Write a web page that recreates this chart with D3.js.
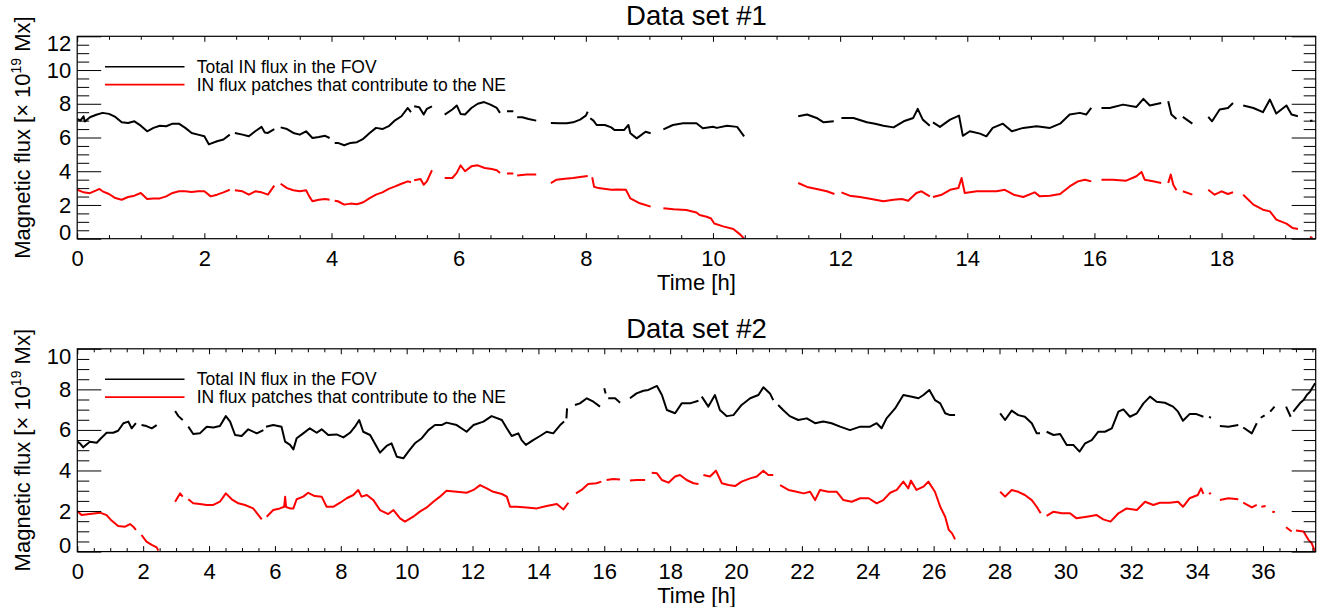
<!DOCTYPE html>
<html>
<head>
<meta charset="utf-8">
<script src="https://cdn.jsdelivr.net/npm/d3@7"></script>
<style>
  html, body { margin: 0; padding: 0; background: #fff; }
  svg { display: block; font-family: "Liberation Sans", Arial, Helvetica, sans-serif; }
</style>
</head>
<body>
<svg id="chart" width="1320" height="607"></svg>
<script>
// ---- Data set #1: [hour, flux in 1e19 Mx]; null marks a gap in the record ----
const set1Total = [
  [0,7.1],[0.05,7.0],[0.1,7.25],[0.12,6.95],[0.2,7.2],[0.3,7.35],[0.4,7.46],[0.5,7.4],[0.6,7.22],[0.7,6.9],
  [0.8,6.86],[0.9,6.96],[1.0,6.7],[1.1,6.37],[1.2,6.57],[1.3,6.7],[1.4,6.67],[1.5,6.82],[1.6,6.82],[1.7,6.57],
  [1.8,6.27],[1.9,6.17],[2.0,6.07],[2.07,5.6],[2.1,5.64],[2.2,5.78],[2.3,5.88],[2.4,6.17], null,
  [2.48,6.27],[2.6,6.17],[2.7,6.07],[2.8,6.37],[2.9,6.63],[2.95,6.3],[3.0,6.27],[3.1,6.5], null,
  [3.2,6.6],[3.3,6.5],[3.4,6.27],[3.5,6.17],[3.6,6.37],[3.7,5.97],[3.8,6.03],[3.9,6.1],[3.97,5.97], null,
  [4.05,5.68],[4.1,5.68],[4.2,5.54],[4.3,5.68],[4.4,5.72],[4.5,5.92],[4.6,6.27],[4.7,6.57],[4.8,6.5],[4.9,6.67],
  [5.0,7.02],[5.1,7.26],[5.2,7.75],[5.25,7.5], null,
  [5.3,7.85],[5.38,7.8],[5.45,7.36],[5.5,7.7],[5.58,7.85], null,
  [5.78,7.36],[5.9,7.66],[5.97,7.9],[6.03,7.4],[6.1,7.36],[6.2,7.75],[6.3,8.0],[6.4,8.1],[6.5,7.95],[6.6,7.75],[6.65,7.46], null,
  [6.76,7.56],[6.86,7.56], null,
  [6.92,7.2],[7.0,7.2],[7.1,7.1],[7.22,7.0], null,
  [7.45,6.86],[7.59,6.84],[7.7,6.84],[7.8,6.9],[7.91,7.06],[8.0,7.3],[8.03,7.53], null,
  [8.07,7.14],[8.12,7.0],[8.17,6.74],[8.3,6.74],[8.4,6.6],[8.45,6.44],[8.6,6.44],[8.67,6.74],[8.7,6.25],[8.8,5.95],
  [8.94,6.34],[9.02,6.25], null,
  [9.22,6.48],[9.37,6.74],[9.53,6.84],[9.74,6.84],[9.84,6.55],[10.0,6.64],[10.06,6.57],[10.22,6.7],[10.38,6.63],[10.49,6.07], null,
  [11.34,7.26],[11.48,7.36],[11.63,7.16],[11.74,6.9],[11.9,6.96], null,
  [12.02,7.16],[12.21,7.16],[12.42,6.9],[12.55,6.82],[12.68,6.7],[12.84,6.6],[13.0,6.96],[13.15,7.16],[13.22,7.7],[13.3,7.06],[13.41,6.7], null,
  [13.46,6.9],[13.57,6.63],[13.73,7.06],[13.87,7.3],[13.93,6.1],[14.04,6.37],[14.2,6.23],[14.3,6.07],[14.4,6.57],[14.56,6.82],
  [14.7,6.37],[14.88,6.57],[15.09,6.67],[15.3,6.57],[15.46,6.82],[15.61,7.36],[15.77,7.46],[15.87,7.36],[15.95,7.75], null,
  [16.11,7.75],[16.24,7.75],[16.45,7.95],[16.66,7.81],[16.77,8.29],[16.87,7.9],[17.05,8.05], null,
  [17.16,8.15],[17.21,7.36],[17.29,7.1], null,
  [17.39,7.22],[17.54,6.82], null,
  [17.79,7.22],[17.85,6.96],[17.97,7.66],[18.1,7.75],[18.18,8.05], null,
  [18.34,7.9],[18.5,7.75],[18.65,7.5],[18.76,8.25],[18.86,7.42],[19.02,7.9],[19.1,7.36],[19.2,7.26], null,
  [19.39,7.0],[19.43,7.0]
];

const set1Patches = [
  [0,2.9],[0.1,2.75],[0.2,2.7],[0.3,2.87],[0.35,2.95],[0.4,2.81],[0.5,2.65],[0.6,2.41],[0.7,2.31],[0.8,2.47],
  [0.9,2.55],[1.0,2.71],[1.1,2.35],[1.2,2.39],[1.3,2.39],[1.4,2.51],[1.5,2.71],[1.6,2.81],[1.7,2.81],[1.8,2.77],
  [1.9,2.81],[2.0,2.81],[2.1,2.51],[2.2,2.61],[2.3,2.75],[2.4,2.9], null,
  [2.48,2.87],[2.6,2.81],[2.7,2.61],[2.8,2.81],[2.9,2.75],[3.0,2.61],[3.1,3.15], null,
  [3.2,3.26],[3.3,3.0],[3.4,2.87],[3.5,2.81],[3.6,2.87],[3.65,2.51],[3.7,2.22],[3.8,2.31],[3.9,2.35],[3.97,2.31], null,
  [4.05,2.25],[4.1,2.22],[4.2,2.02],[4.3,2.08],[4.4,2.04],[4.5,2.16],[4.6,2.41],[4.7,2.61],[4.8,2.75],[4.9,2.95],
  [5.0,3.1],[5.1,3.26],[5.2,3.4],[5.25,3.35], null,
  [5.3,3.46],[5.4,3.54],[5.45,3.2],[5.5,3.4],[5.58,4.06], null,
  [5.78,3.6],[5.9,3.6],[5.97,3.9],[6.03,4.35],[6.1,4.0],[6.2,4.29],[6.3,4.35],[6.41,4.19],[6.52,4.13],[6.6,4.06],[6.65,3.9], null,
  [6.76,3.86],[6.86,3.86], null,
  [6.92,3.74],[7.07,3.8],[7.22,3.8], null,
  [7.45,3.3],[7.54,3.5],[7.67,3.56],[7.8,3.6],[7.91,3.66],[8.03,3.72], null,
  [8.1,3.64],[8.13,3.08],[8.2,3.0],[8.4,2.9],[8.5,2.92],[8.63,2.9],[8.7,2.39],[8.85,2.1],[9.02,1.9], null,
  [9.22,1.8],[9.38,1.74],[9.58,1.7],[9.74,1.55],[9.79,1.4],[9.9,1.3],[9.97,1.2],[10.02,0.9],[10.16,0.73],[10.32,0.57],[10.43,0.24],[10.49,0.0], null,
  [11.34,3.3],[11.48,3.07],[11.63,2.95],[11.79,2.81],[11.91,2.65], null,
  [12.02,2.75],[12.15,2.55],[12.31,2.47],[12.47,2.37],[12.68,2.22],[12.84,2.31],[12.97,2.35],[13.07,2.25],[13.2,2.71],[13.28,2.81],[13.41,2.51], null,
  [13.46,2.47],[13.6,2.61],[13.73,2.9],[13.86,3.0],[13.91,3.6],[13.96,2.71],[14.15,2.81],[14.3,2.81],[14.46,2.81],[14.59,2.9],
  [14.73,2.61],[14.88,2.47],[15.06,2.75],[15.14,2.51],[15.3,2.55],[15.46,2.65],[15.61,3.1],[15.74,3.4],[15.85,3.5],[15.95,3.4], null,
  [16.11,3.5],[16.29,3.5],[16.5,3.44],[16.66,3.7],[16.74,3.96],[16.79,3.5],[16.92,3.4],[17.05,3.3], null,
  [17.16,3.3],[17.2,3.8],[17.24,3.2],[17.29,2.87], null,
  [17.39,2.81],[17.54,2.61], null,
  [17.79,2.9],[17.89,2.61],[18.0,2.81],[18.1,2.65],[18.18,2.75], null,
  [18.34,2.61],[18.5,2.02],[18.65,1.72],[18.76,1.62],[18.86,1.13],[19.02,0.89],[19.12,0.63],[19.2,0.57], null,
  [19.39,0.1],[19.43,0.05]
];

// ---- Data set #2 ----
const set2Total = [
  [0,5.42],[0.08,5.34],[0.18,5.14],[0.38,5.42],[0.59,5.37],[0.69,5.54],[0.89,5.86],[1.09,5.86],[1.24,5.96],[1.4,6.33],
  [1.55,6.41],[1.65,6.08],[1.78,6.33], null,
  [1.95,6.24],[2.1,6.19],[2.26,6.08],[2.41,6.24], null,
  [2.97,6.93],[3.07,6.68],[3.2,6.49], null,
  [3.37,6.16],[3.52,5.8],[3.72,5.83],[3.93,6.16],[4.13,6.12],[4.33,6.19],[4.51,6.68],[4.64,6.41],[4.79,5.75],[4.99,5.7],
  [5.19,6.03],[5.45,5.83],[5.65,5.99], null,
  [5.73,6.16],[5.95,6.24],[6.2,6.16],[6.31,5.42],[6.46,5.26],[6.56,5.04],[6.66,5.59],[6.86,5.83],[7.06,6.08],[7.27,5.86],
  [7.42,6.03],[7.62,5.75],[7.87,5.78],[8.08,5.63],[8.28,5.86],[8.43,6.16],[8.56,6.49],[8.68,5.91],[8.89,5.75],[9.09,5.17],
  [9.19,4.88],[9.39,5.21],[9.54,5.34],[9.7,4.68],[9.9,4.6],[10.05,4.93],[10.25,5.34],[10.46,5.59],[10.66,5.99],[10.86,6.24],
  [11.06,6.24],[11.21,6.36],[11.52,6.24],[11.82,5.91],[12.03,6.24],[12.33,6.41],[12.58,6.68],[12.89,6.49],[13.04,6.08],[13.19,5.7],
  [13.39,5.83],[13.49,5.5],[13.62,5.26],[13.84,5.5],[14.05,5.7],[14.25,5.91],[14.45,5.83],[14.66,6.24],[14.78,6.41], null,
  [14.85,6.57],[14.87,7.06], null,
  [15.11,7.23],[15.26,7.31],[15.47,7.56],[15.67,7.39],[15.87,7.15], null,
  [16.0,8.05],[16.04,7.8], null,
  [16.12,7.56],[16.33,7.56],[16.48,7.34], null,
  [16.78,7.56],[16.98,7.8],[17.19,7.93],[17.34,7.97],[17.6,8.17],[17.75,7.72],[17.9,6.98],[18.15,6.82],[18.35,7.31],[18.6,7.31],[18.86,7.44], null,
  [18.96,7.64],[19.16,7.15],[19.36,7.72],[19.51,6.98],[19.72,6.68],[19.92,6.73],[20.17,7.23],[20.43,7.56],[20.68,7.72],[20.83,8.1],
  [21.03,7.8],[21.13,7.47], null,
  [21.28,7.23],[21.43,6.98],[21.63,6.68],[21.89,6.49],[22.15,6.57],[22.4,6.33],[22.65,6.41],[22.9,6.33],[23.16,6.16],[23.46,5.99],
  [23.77,6.16],[24.07,6.16],[24.27,6.33],[24.42,6.08],[24.57,6.57],[24.83,7.06],[25.08,7.72],[25.34,7.64],[25.54,7.56],[25.69,7.72],
  [25.87,7.97],[26.04,7.47],[26.2,7.31],[26.35,6.82],[26.5,6.73],[26.65,6.73], null,
  [28.02,6.82],[28.17,6.49],[28.37,6.95],[28.57,6.73],[28.77,6.65],[28.98,6.33],[29.13,5.83],[29.23,5.83], null,
  [29.43,5.91],[29.64,5.75],[29.84,5.8],[30.04,5.26],[30.24,5.26],[30.43,4.93],[30.6,5.34],[30.8,5.5],[31.0,5.91],[31.2,5.91],
  [31.41,6.08],[31.61,6.9],[31.76,7.01],[31.96,6.65],[32.17,6.82],[32.37,7.31],[32.57,7.64],[32.77,7.39],[33.02,7.34],[33.27,7.15],
  [33.42,6.9],[33.57,6.45],[33.77,6.78],[33.98,6.78],[34.19,6.65], null,
  [34.36,6.64],[34.42,6.6], null,
  [34.69,6.19],[34.95,6.16],[35.25,6.24], null,
  [35.4,6.12],[35.66,5.83],[35.81,6.33], null,
  [35.93,6.6],[36.05,6.72], null,
  [36.22,6.9],[36.35,7.15], null,
  [36.7,7.15],[36.84,6.65], null,
  [36.92,6.9],[37.12,7.31],[37.23,7.47],[37.33,7.72],[37.43,7.89],[37.58,8.3]
];

const set2Patches = [
  [0,2.0],[0.13,1.8],[0.38,1.85],[0.69,1.92],[0.89,1.8],[1.04,1.53],[1.24,1.26],[1.45,1.23],[1.6,1.36],[1.7,1.23],[1.78,1.07], null,
  [1.95,0.82],[2.1,0.49],[2.26,0.33],[2.41,0.21],[2.46,0.05], null,
  [2.97,2.46],[3.12,2.87],[3.2,2.71], null,
  [3.37,2.58],[3.52,2.38],[3.72,2.35],[3.93,2.3],[4.13,2.3],[4.33,2.46],[4.51,2.87],[4.69,2.58],[4.89,2.38],[5.09,2.3],
  [5.34,2.13],[5.5,1.8],[5.6,1.59], null,
  [5.75,1.72],[5.95,2.05],[6.15,2.13],[6.28,2.21],[6.31,2.7],[6.34,2.2],[6.46,2.13],[6.56,2.13],[6.66,2.58],[6.86,2.71],
  [7.01,2.9],[7.21,2.74],[7.42,2.71],[7.57,2.21],[7.77,2.21],[7.98,2.41],[8.18,2.63],[8.38,2.79],[8.53,3.04],[8.63,2.71],
  [8.79,2.79],[8.99,2.54],[9.19,2.05],[9.44,1.85],[9.6,2.05],[9.8,1.64],[9.95,1.48],[10.2,1.72],[10.4,1.97],[10.61,2.18],
  [10.81,2.46],[11.01,2.71],[11.21,3.0],[11.52,2.95],[11.82,2.9],[12.03,3.04],[12.23,3.28],[12.43,3.12],[12.63,2.95],[12.89,2.84],
  [13.04,2.71],[13.14,2.21],[13.34,2.21],[13.64,2.18],[13.95,2.13],[14.25,2.25],[14.56,2.35],[14.76,2.08],[14.91,2.41], null,
  [15.14,2.87],[15.31,3.04],[15.51,3.33],[15.76,3.37],[15.91,3.45], null,
  [16.07,3.53],[16.27,3.58],[16.48,3.56], null,
  [16.78,3.5],[16.98,3.53],[17.24,3.53], null,
  [17.44,3.89],[17.6,3.86],[17.75,3.53],[17.95,3.4],[18.15,3.7],[18.3,3.78],[18.5,3.53],[18.71,3.37],[18.86,3.33], null,
  [19.01,3.78],[19.21,3.7],[19.39,3.99],[19.57,3.37],[19.77,3.28],[19.97,3.23],[20.17,3.45],[20.43,3.61],[20.63,3.7],[20.83,3.99],
  [20.98,3.78],[21.13,3.78], null,
  [21.34,3.28],[21.59,3.04],[21.84,2.95],[22.05,2.87],[22.25,2.95],[22.4,2.54],[22.55,3.04],[22.8,2.95],[23.06,2.95],[23.26,2.54],
  [23.51,2.46],[23.77,2.63],[24.03,2.63],[24.27,2.38],[24.47,2.54],[24.68,2.9],[24.88,3.04],[25.08,3.45],[25.23,3.12],[25.31,3.5],
  [25.48,3.04],[25.69,3.2],[25.84,3.45],[26.04,2.95],[26.2,2.21],[26.35,1.72],[26.46,1.07],[26.56,0.9],[26.65,0.6], null,
  [28.02,2.95],[28.17,2.71],[28.37,3.04],[28.57,2.95],[28.77,2.79],[28.98,2.54],[29.13,2.21],[29.25,1.89], null,
  [29.43,1.76],[29.64,1.97],[29.89,1.89],[30.14,1.89],[30.34,1.64],[30.65,1.72],[30.95,1.8],[31.15,1.59],[31.37,1.48],[31.61,1.89],
  [31.86,2.13],[32.17,2.05],[32.42,2.46],[32.67,2.3],[32.87,2.41],[33.17,2.41],[33.42,2.46],[33.57,2.21],[33.77,2.63],[34.02,2.79],
  [34.12,3.12],[34.19,2.85], null,
  [34.36,2.84],[34.42,2.9], null,
  [34.69,2.54],[34.95,2.63],[35.25,2.58], null,
  [35.4,2.41],[35.66,2.18],[35.81,2.3], null,
  [35.95,2.21],[36.08,2.25], null,
  [36.28,1.97],[36.36,1.95], null,
  [36.7,1.2],[36.87,0.99], null,
  [37.0,1.04],[37.23,0.99],[37.38,0.58],[37.48,0.41],[37.58,0.0]
];

// ---- Tick labels and text ----
const set1HourTicks = [0, 2, 4, 6, 8, 10, 12, 14, 16, 18];
const set1FluxTicks = [0, 2, 4, 6, 8, 10, 12];
const set2HourTicks = [0, 2, 4, 6, 8, 10, 12, 14, 16, 18, 20, 22, 24, 26, 28, 30, 32, 34, 36];
const set2FluxTicks = [0, 2, 4, 6, 8, 10];
const panelTitles = ["Data set #1", "Data set #2"];
const legendLabels = ["Total IN flux in the FOV", "IN flux patches that contribute to the NE"];
const seriesColors = ["#000000", "#ff0000"];
const xTitle = "Time [h]";

// ---- Layout ----
const panels = [
  { title: panelTitles[0], total: set1Total, patches: set1Patches, xTicks: set1HourTicks, yTicks: set1FluxTicks,
    xMax: 19.48, yMax: 12, left: 77.2, right: 1315.7, top: 36.3, bottom: 238.7 },
  { title: panelTitles[1], total: set2Total, patches: set2Patches, xTicks: set2HourTicks, yTicks: set2FluxTicks,
    xMax: 37.6, yMax: 10, left: 77.3, right: 1315.7, top: 348.8, bottom: 551.6 }
];

const svg = d3.select("#chart");

function styleAxis(sel, fontSize) {
  sel.attr("font-family", null).attr("font-size", fontSize);
  sel.select(".domain").remove();
  sel.selectAll(".tick line").attr("stroke", "#000").attr("stroke-width", 1);
  sel.selectAll(".tick text").attr("fill", "#000");
}

panels.forEach((p, i) => {
  const x = d3.scaleLinear().domain([0, p.xMax]).range([p.left, p.right]);
  const y = d3.scaleLinear().domain([0, p.yMax]).range([p.bottom, p.top]);
  const g = svg.append("g");

  const clipId = "plot-clip-" + i;
  svg.append("defs").append("clipPath").attr("id", clipId)
    .append("rect").attr("x", p.left).attr("y", p.top)
    .attr("width", p.right - p.left).attr("height", p.bottom - p.top);

  // flux curves
  const line = d3.line()
    .defined(d => d !== null)
    .x(d => x(d[0]))
    .y(d => y(d[1]));
  const plot = g.append("g").attr("clip-path", `url(#${clipId})`);
  [p.total, p.patches].forEach((series, k) => {
    plot.append("path")
      .datum(series)
      .attr("d", line)
      .attr("fill", "none")
      .attr("stroke", seriesColors[k])
      .attr("stroke-width", 2)
      .attr("stroke-linejoin", "round");
  });

  // frame
  g.append("rect")
    .attr("x", p.left).attr("y", p.top)
    .attr("width", p.right - p.left).attr("height", p.bottom - p.top)
    .attr("fill", "none").attr("stroke", "#000").attr("stroke-width", 1.2);

  const xMinor = d3.range(0, p.xMax + 1e-9, 0.5).filter(v => v % 2 !== 0);
  const yMinor = d3.range(0, p.yMax + 1e-9, 0.5).filter(v => v % 2 !== 0);

  // bottom axis with labels
  g.append("g").attr("transform", `translate(0,${p.bottom})`)
    .call(d3.axisBottom(x).tickValues(p.xTicks).tickFormat(d3.format("d"))
      .tickSizeInner(-5.5).tickSizeOuter(0).tickPadding(11.6))
    .call(s => styleAxis(s, 22));
  g.append("g").attr("transform", `translate(0,${p.bottom})`)
    .call(d3.axisBottom(x).tickValues(xMinor).tickFormat("").tickSizeInner(-3.5).tickSizeOuter(0))
    .call(s => styleAxis(s, 22));
  // top axis (ticks only)
  g.append("g").attr("transform", `translate(0,${p.top})`)
    .call(d3.axisTop(x).tickValues(p.xTicks).tickFormat("").tickSizeInner(-5.5).tickSizeOuter(0))
    .call(s => styleAxis(s, 22));
  g.append("g").attr("transform", `translate(0,${p.top})`)
    .call(d3.axisTop(x).tickValues(xMinor).tickFormat("").tickSizeInner(-3.5).tickSizeOuter(0))
    .call(s => styleAxis(s, 22));

  // left axis with labels
  const leftAxis = g.append("g").attr("transform", `translate(${p.left},0)`)
    .call(d3.axisLeft(y).tickValues(p.yTicks).tickFormat(d3.format("d"))
      .tickSizeInner(-24).tickSizeOuter(0).tickPadding(6))
    .call(s => styleAxis(s, 22));
  // keep the end labels inside the frame height
  leftAxis.selectAll(".tick text")
    .attr("dy", d => d === 0 ? "0.02em" : (d === p.yMax ? "0.66em" : "0.32em"));
  g.append("g").attr("transform", `translate(${p.left},0)`)
    .call(d3.axisLeft(y).tickValues(yMinor).tickFormat("").tickSizeInner(-12).tickSizeOuter(0))
    .call(s => styleAxis(s, 22));
  // right axis (ticks only)
  g.append("g").attr("transform", `translate(${p.right},0)`)
    .call(d3.axisRight(y).tickValues(p.yTicks).tickFormat("").tickSizeInner(-24).tickSizeOuter(0))
    .call(s => styleAxis(s, 22));
  g.append("g").attr("transform", `translate(${p.right},0)`)
    .call(d3.axisRight(y).tickValues(yMinor).tickFormat("").tickSizeInner(-12).tickSizeOuter(0))
    .call(s => styleAxis(s, 22));

  const cx = (p.left + p.right) / 2;

  // title
  g.append("text")
    .attr("x", cx).attr("y", p.top - 11)
    .attr("text-anchor", "middle")
    .attr("font-size", 27.5)
    .attr("fill", "#000")
    .text(p.title);

  // x axis title
  g.append("text")
    .attr("x", cx).attr("y", p.bottom + 51)
    .attr("text-anchor", "middle")
    .attr("font-size", 22)
    .attr("fill", "#000")
    .text(xTitle);

  // y axis title with superscript exponent
  const yt = g.append("text")
    .attr("transform", `translate(30,${(p.top + p.bottom) / 2}) rotate(-90)`)
    .attr("text-anchor", "middle")
    .attr("font-size", 22)
    .attr("fill", "#000");
  yt.append("tspan").text("Magnetic flux [\u00d7 10");
  yt.append("tspan").attr("font-size", 14).attr("dy", -9).text("19");
  yt.append("tspan").attr("dy", 9).text(" Mx]");

  // legend
  legendLabels.forEach((label, k) => {
    const ly = p.top + 30.5 + k * 17.8;
    g.append("line")
      .attr("x1", 105).attr("x2", 184.5)
      .attr("y1", ly).attr("y2", ly)
      .attr("stroke", seriesColors[k]).attr("stroke-width", 1.6);
    g.append("text")
      .attr("x", 196.7).attr("y", ly + 6)
      .attr("font-size", 17.5)
      .attr("fill", "#000")
      .text(label);
  });
});
</script>
</body>
</html>
